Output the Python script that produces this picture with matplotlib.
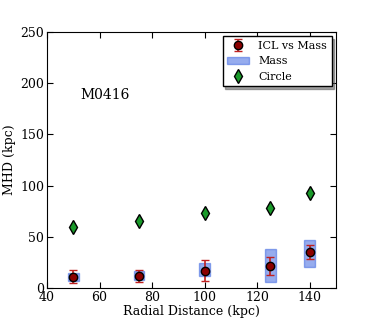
import matplotlib
matplotlib.use("Agg")
import matplotlib.pyplot as plt
import numpy as np

# data
radius = [50, 75, 100, 125, 140]
icl_mhd = [11, 11.7, 16.9, 21.5, 35.2]
icl_err = [6.5, 6, 10, 9, 7]
mass_lo = [7, 7.8, 11.7, 6.2, 20.8]
mass_hi = [15, 16.3, 24.7, 37.8, 46.9]
circle_mhd = [59.9, 65.4, 72.9, 77.8, 93.1]

plt.rcParams['font.family'] = 'DejaVu Serif'
plt.rcParams['font.size'] = 9
plt.rcParams['xtick.direction'] = 'in'
plt.rcParams['ytick.direction'] = 'in'

fig = plt.figure(figsize=(3.74, 3.2), dpi=100)
ax = fig.add_axes([0.1257, 0.1, 0.7727, 0.8])

heights = np.array(mass_hi) - np.array(mass_lo)
bars = ax.bar(radius, heights, width=4, bottom=mass_lo, color='royalblue', alpha=0.55,
              edgecolor='royalblue', linewidth=1, label='Mass', zorder=1)
icl = ax.errorbar(radius, icl_mhd, yerr=icl_err, fmt='o', color='darkred', mfc='darkred',
                  mec='black', mew=1, ms=6, ecolor='#c02020', elinewidth=1.2, capsize=3,
                  capthick=1.2, label='ICL vs Mass', zorder=3)
circ, = ax.plot(radius, circle_mhd, 'd', color='green', mfc='#1a9a2a', mec='black', mew=1,
                ms=7, linestyle='none', label='Circle', zorder=3)

ax.text(52.6, 188.5, 'M0416', fontsize=10, va='center')

ax.set_xlim(40, 150)
ax.set_ylim(0, 250)
ax.set_xticks([40, 60, 80, 100, 120, 140])
ax.set_yticks([0, 50, 100, 150, 200, 250])
ax.tick_params(top=True, right=True, length=4, width=0.8, labelsize=9, pad=2)
ax.set_xlabel('Radial Distance (kpc)', fontsize=9, labelpad=1)
ax.set_ylabel('MHD (kpc)', fontsize=9, labelpad=3)

leg = ax.legend([icl, bars, circ], ['ICL vs Mass', 'Mass', 'Circle'],
                loc='upper right', fontsize=8, shadow=True, fancybox=False,
                framealpha=1, edgecolor='black', borderpad=0.4, handletextpad=0.8,
                numpoints=1, borderaxespad=0.4)

fig.savefig('out.png', dpi=100)
